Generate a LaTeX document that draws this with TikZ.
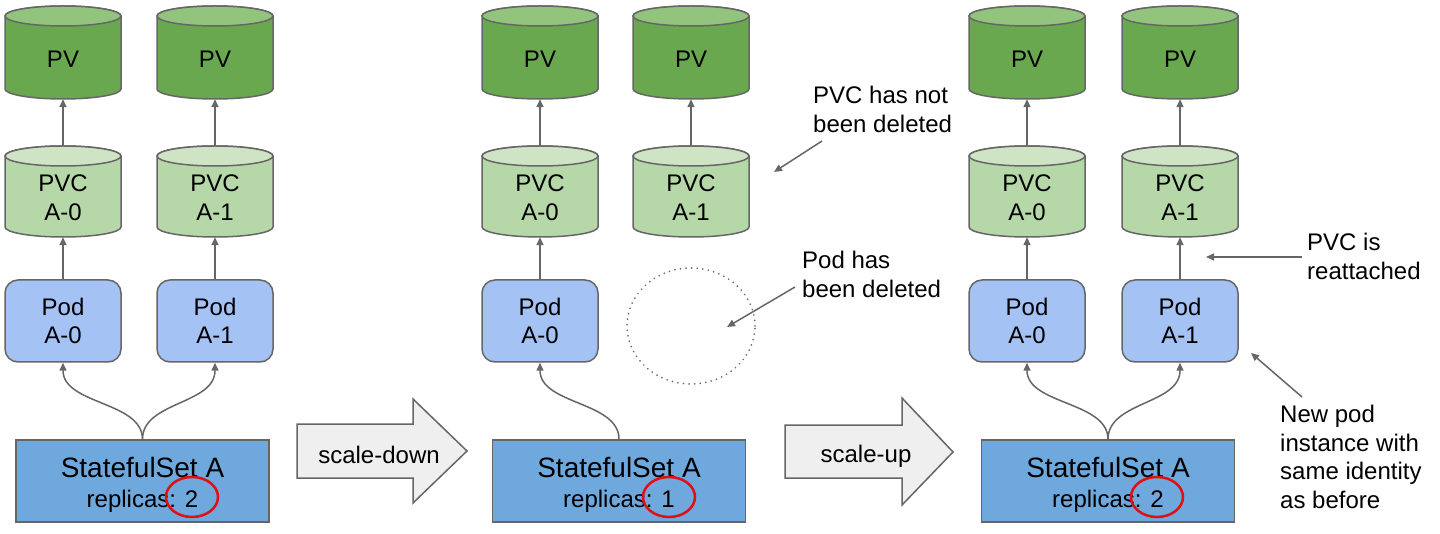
\documentclass[tikz,border=0pt]{standalone}
\usepackage{fontspec}
\setmainfont{Liberation Sans}
\usetikzlibrary{arrows.meta,shapes.geometric}
\definecolor{lineg}{HTML}{666666}
\definecolor{pvbody}{HTML}{6AA84F}
\definecolor{pvtop}{HTML}{93C47D}
\definecolor{pvcbody}{HTML}{B6D7A8}
\definecolor{pvctop}{HTML}{CFE4C4}
\definecolor{podfill}{HTML}{A4C2F4}
\definecolor{ssfill}{HTML}{6FA8DC}
\definecolor{arrfill}{HTML}{EFEFEF}
\definecolor{redc}{HTML}{E01010}
\tikzset{
  cyltext/.style={inner sep=0pt, align=center, font=\fontsize{24}{28.5}\selectfont},
  podbox/.style={draw=lineg, line width=1.5pt, fill=podfill, rounded corners=13pt, minimum width=116pt, minimum height=82pt, inner sep=0pt, align=center, font=\fontsize{24}{28}\selectfont},
  ssbox/.style={draw=lineg, line width=1.5pt, fill=ssfill, minimum width=253pt, minimum height=82pt, inner sep=0pt},
  sstitle/.style={inner sep=0pt, anchor=base, font=\fontsize{28}{32}\selectfont},
  sssub/.style={inner sep=0pt, anchor=base, font=\fontsize{24}{28}\selectfont},
  conn/.style={draw=lineg, line width=1.5pt, -{Triangle[length=8pt,width=7pt]}},
  anntext/.style={inner sep=0pt, anchor=north west, align=left, font=\fontsize{24}{28.5}\selectfont},
  redring/.style={ellipse, draw=redc, line width=2.5pt, minimum width=52pt, minimum height=40pt, inner sep=0pt},
  sarrow/.style={draw=lineg, line width=1.5pt, fill=arrfill, line join=miter},
  stext/.style={inner sep=0pt, anchor=base, font=\fontsize{24}{28}\selectfont},
}
% name, cx, ytop, ybot, body colour, top colour, text, text shift
\newcommand\mycyl[8]{%
  \path[fill=#5, draw=lineg, line width=1.5pt] (#2-58,#3+10) -- (#2-58,#4-10)
     arc[start angle=180, end angle=0, x radius=58, y radius=10] -- (#2+58,#3+10)
     arc[start angle=0, end angle=-180, x radius=58, y radius=10] -- cycle;
  \path[fill=#6, draw=lineg, line width=1.5pt] (#2,#3+10) ellipse[x radius=58, y radius=10];
  \node[inner sep=0pt, minimum width=116pt, minimum height={#4-#3}] (#1) at (#2,{(#3+#4)/2}) {};
  \node[cyltext] (#1t) at ([yshift=#8]#1.center) {#7};
}
\begin{document}
\begin{tikzpicture}[x=1pt, y=-1pt]
\useasboundingbox[fill=white] (0,0) rectangle (1440,534);

% ---------- panel 1 ----------
\mycyl{pv1a}{63}{6}{99}{pvbody}{pvtop}{PV}{-6.5pt}
\mycyl{pv1b}{215}{6}{99}{pvbody}{pvtop}{PV}{-6.5pt}
\mycyl{pvc1a}{63}{146}{237}{pvcbody}{pvctop}{PVC\\A-0}{-6pt}
\mycyl{pvc1b}{215}{146}{237}{pvcbody}{pvctop}{PVC\\A-1}{-6pt}
\node[podbox] (pod1a) at (63,321) {Pod\\A-0};
\node[podbox] (pod1b) at (215,321) {Pod\\A-1};
\node[ssbox] (ss1) at (142.5,481) {};
\node[sstitle] (ss1t) at (142.5,477) {StatefulSet A};
\node[sssub] (ss1s) at (142.5,507) {replicas: 2};
\node[redring] (r1) at (192,497) {};
\draw[conn] (pvc1a.north) -- (pv1a.south);
\draw[conn] (pvc1b.north) -- (pv1b.south);
\draw[conn] (pod1a.north) -- (pvc1a.south);
\draw[conn] (pod1b.north) -- (pvc1b.south);
\draw[conn] (ss1.north) .. controls +(0,-38) and +(0,42) .. (pod1a.south);
\draw[conn] (ss1.north) .. controls +(0,-38) and +(0,42) .. (pod1b.south);

% scale-down arrow
\draw[sarrow] (297,424) -- (413,424) -- (413,399) -- (467,451) -- (413,503) -- (413,478) -- (297,478) -- cycle;
\node[stext] (sdown) at (379,463) {scale-down};

% ---------- panel 2 ----------
\mycyl{pv2a}{540}{6}{99}{pvbody}{pvtop}{PV}{-6.5pt}
\mycyl{pv2b}{691}{6}{99}{pvbody}{pvtop}{PV}{-6.5pt}
\mycyl{pvc2a}{540}{146}{237}{pvcbody}{pvctop}{PVC\\A-0}{-6pt}
\mycyl{pvc2b}{691}{146}{237}{pvcbody}{pvctop}{PVC\\A-1}{-6pt}
\node[podbox] (pod2a) at (540,321) {Pod\\A-0};
\node[ellipse, draw=lineg, line width=1.8pt, dash pattern=on 0.1pt off 5.5pt, line cap=round, minimum width=128pt, minimum height=116pt, inner sep=0pt] (gone) at (691,326) {};
\node[ssbox] (ss2) at (619,481) {};
\node[sstitle] (ss2t) at (619,477) {StatefulSet A};
\node[sssub] (ss2s) at (619,507) {replicas: 1};
\node[redring] (r2) at (669,497) {};
\draw[conn] (pvc2a.north) -- (pv2a.south);
\draw[conn] (pvc2b.north) -- (pv2b.south);
\draw[conn] (pod2a.north) -- (pvc2a.south);
\draw[conn] (ss2.north) .. controls +(0,-38) and +(0,42) .. (pod2a.south);

% annotations panel 2
\node[anntext] (n1) at (813,86) {PVC has not\\been deleted};
\coordinate (a1s) at (822,141);
\coordinate (a1e) at (774,172);
\draw[conn] (a1s) -- (a1e);
\node[anntext] (n2) at (802,251) {Pod has\\been deleted};
\coordinate (a2s) at (795,287);
\coordinate (a2e) at (727,327);
\draw[conn] (a2s) -- (a2e);

% scale-up arrow
\draw[sarrow] (785,425) -- (902,425) -- (902,398) -- (953,452) -- (902,505) -- (902,478) -- (785,478) -- cycle;
\node[stext] (sup) at (866,462) {scale-up};

% ---------- panel 3 ----------
\mycyl{pv3a}{1027}{6}{99}{pvbody}{pvtop}{PV}{-6.5pt}
\mycyl{pv3b}{1180}{6}{99}{pvbody}{pvtop}{PV}{-6.5pt}
\mycyl{pvc3a}{1027}{146}{237}{pvcbody}{pvctop}{PVC\\A-0}{-6pt}
\mycyl{pvc3b}{1180}{146}{237}{pvcbody}{pvctop}{PVC\\A-1}{-6pt}
\node[podbox] (pod3a) at (1027,321) {Pod\\A-0};
\node[podbox] (pod3b) at (1180,321) {Pod\\A-1};
\node[ssbox] (ss3) at (1108,481) {};
\node[sstitle] (ss3t) at (1108,477) {StatefulSet A};
\node[sssub] (ss3s) at (1108,507) {replicas: 2};
\node[redring] (r3) at (1157,497) {};
\draw[conn] (pvc3a.north) -- (pv3a.south);
\draw[conn] (pvc3b.north) -- (pv3b.south);
\draw[conn] (pod3a.north) -- (pvc3a.south);
\draw[conn] (pod3b.north) -- (pvc3b.south);
\draw[conn] (ss3.north) .. controls +(0,-38) and +(0,42) .. (pod3a.south);
\draw[conn] (ss3.north) .. controls +(0,-38) and +(0,42) .. (pod3b.south);

% annotations panel 3
\node[anntext] (n3) at (1307,233) {PVC is\\reattached};
\coordinate (a3s) at (1302,257);
\coordinate (a3e) at (1206,257);
\draw[conn] (a3s) -- (a3e);
\node[anntext] (n4) at (1280,405) {New pod\\instance with\\same identity\\as before};
\coordinate (a4s) at (1302,397);
\coordinate (a4e) at (1251,353);
\draw[conn] (a4s) -- (a4e);
\end{tikzpicture}
\end{document}
